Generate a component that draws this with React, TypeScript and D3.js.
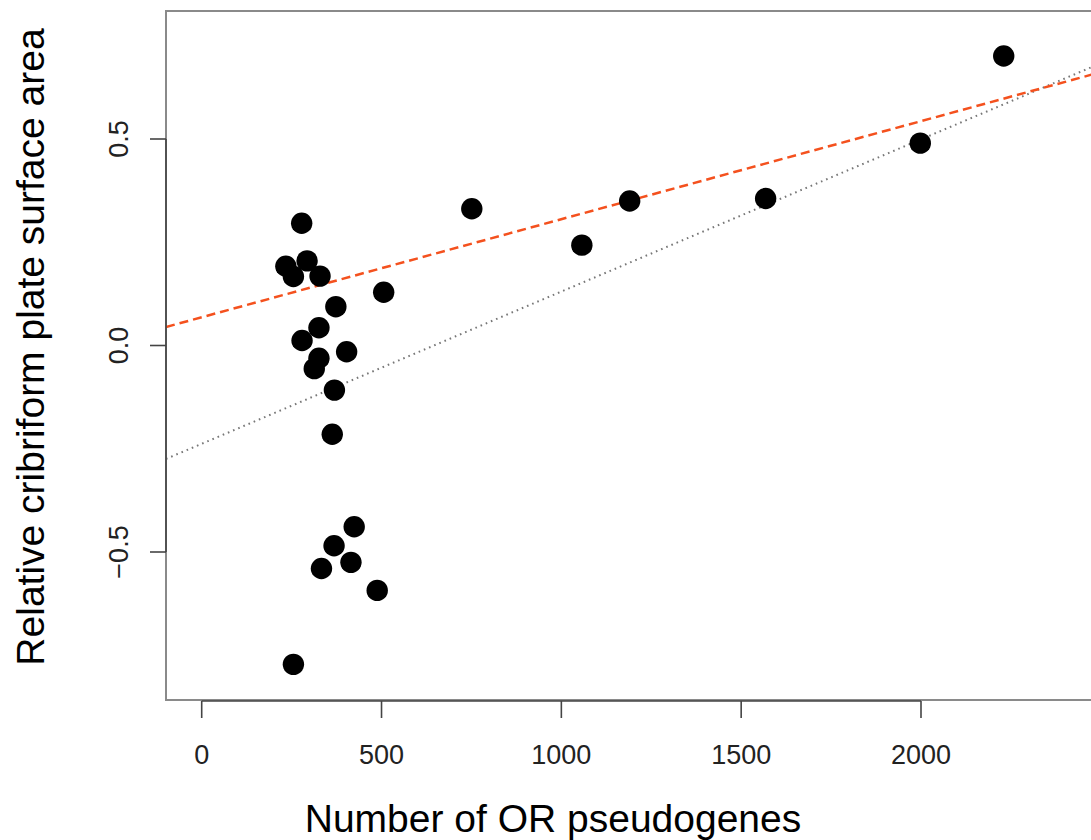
import React, { useEffect, useRef } from "react";
import * as d3 from "d3";

// number of OR pseudogenes vs relative cribriform plate surface area
const pseudogenes = [
  278, 234, 255, 293, 329, 506, 373, 326, 279, 403, 326, 313, 369, 363,
  424, 368, 415, 333, 488, 255, 751, 1057, 1190, 1568, 1998, 2230,
];
const plateArea = [
  0.296, 0.192, 0.167, 0.205, 0.168, 0.129, 0.094, 0.043, 0.012, -0.015, -0.031, -0.056, -0.108, -0.215,
  -0.439, -0.485, -0.525, -0.54, -0.593, -0.772, 0.331, 0.243, 0.35, 0.356, 0.49, 0.701,
];

const xTicks = [0, 500, 1000, 1500, 2000];
const yTicks = [-0.5, 0.0, 0.5];

// fitted lines: [intercept, slope]
const fitLine = [0.0684, 0.0002374];
const refLine = [-0.238, 0.0003686];

const App = () => {
  const chartRef = useRef<HTMLDivElement>(null);

  useEffect(() => {
    const width = 1091;
    const height = 840;
    const box = { left: 166, right: 1110, top: 11, bottom: 700 };

    const x = d3.scaleLinear().domain([0, 2000]).range([201.7, 921]);
    const y = d3.scaleLinear().domain([-0.5, 0.5]).range([552, 139]);

    const svg = d3.create("svg")
      .attr("width", width)
      .attr("height", height)
      .style("position", "absolute")
      .style("left", 0)
      .style("top", 0)
      .style("font-family", "'Liberation Sans', Arial, sans-serif");

    svg.append("rect")
      .attr("width", width)
      .attr("height", height)
      .attr("fill", "#fff");

    svg.append("defs").append("clipPath")
      .attr("id", "plotclip")
      .append("rect")
      .attr("x", box.left)
      .attr("y", box.top)
      .attr("width", box.right - box.left)
      .attr("height", box.bottom - box.top);

    // plot frame
    svg.append("rect")
      .attr("x", box.left)
      .attr("y", box.top)
      .attr("width", box.right - box.left)
      .attr("height", box.bottom - box.top)
      .attr("fill", "none")
      .attr("stroke", "#8a8a8a")
      .attr("stroke-width", 2);

    const xMin = x.invert(box.left);
    const xMax = x.invert(box.right);
    const plot = svg.append("g").attr("clip-path", "url(#plotclip)");

    const drawFit = ([a, b]: number[], color: string, dash: string, w: number) => {
      plot.append("path")
        .attr("d", d3.line<number>().x(d => x(d)).y(d => y(a + b * d))([xMin, xMax]))
        .attr("fill", "none")
        .attr("stroke", color)
        .attr("stroke-width", w)
        .attr("stroke-dasharray", dash);
    };

    drawFit(refLine, "#777", "1.6,4", 2);
    drawFit(fitLine, "#f4511e", "9,5", 2.5);

    plot.append("g")
      .selectAll("circle")
      .data(pseudogenes.map((v, i) => [v, plateArea[i]]))
      .join("circle")
      .attr("cx", d => x(d[0]))
      .attr("cy", d => y(d[1]))
      .attr("r", 10.7)
      .attr("fill", "#000");

    // x axis
    const xAxis = svg.append("g").attr("stroke", "#444").attr("stroke-width", 1.6);
    xAxis.append("line")
      .attr("x1", x(xTicks[0])).attr("x2", x(xTicks[xTicks.length - 1]))
      .attr("y1", box.bottom + 1).attr("y2", box.bottom + 1);
    xAxis.selectAll("line.tick")
      .data(xTicks)
      .join("line")
      .attr("class", "tick")
      .attr("x1", d => x(d)).attr("x2", d => x(d))
      .attr("y1", box.bottom + 1).attr("y2", box.bottom + 18);
    svg.append("g")
      .selectAll("text")
      .data(xTicks)
      .join("text")
      .attr("x", d => x(d))
      .attr("y", 764)
      .attr("text-anchor", "middle")
      .attr("font-size", 27)
      .attr("fill", "#222")
      .text(d => d);

    // y axis
    const yAxis = svg.append("g").attr("stroke", "#444").attr("stroke-width", 1.6);
    yAxis.append("line")
      .attr("x1", box.left).attr("x2", box.left)
      .attr("y1", y(yTicks[0])).attr("y2", y(yTicks[yTicks.length - 1]));
    yAxis.selectAll("line.tick")
      .data(yTicks)
      .join("line")
      .attr("class", "tick")
      .attr("x1", box.left - 16).attr("x2", box.left)
      .attr("y1", d => y(d)).attr("y2", d => y(d));
    svg.append("g")
      .selectAll("text")
      .data(yTicks)
      .join("text")
      .attr("transform", d => `translate(128,${y(d)}) rotate(-90)`)
      .attr("text-anchor", "middle")
      .attr("font-size", 27)
      .attr("fill", "#222")
      .text(d => d3.format(".1f")(d));

    // axis titles
    svg.append("text")
      .attr("x", (303 + 803) / 2)
      .attr("y", 832)
      .attr("text-anchor", "middle")
      .attr("font-size", 39)
      .attr("fill", "#000")
      .text("Number of OR pseudogenes");

    svg.append("text")
      .attr("transform", `translate(44,347) rotate(-90)`)
      .attr("text-anchor", "middle")
      .attr("font-size", 39)
      .attr("fill", "#000")
      .text("Relative cribriform plate surface area");

    if (chartRef.current) {
      chartRef.current.innerHTML = "";
      chartRef.current.appendChild(svg.node()!);
    }
  }, []);

  return <div ref={chartRef} />;
};

export default App;
